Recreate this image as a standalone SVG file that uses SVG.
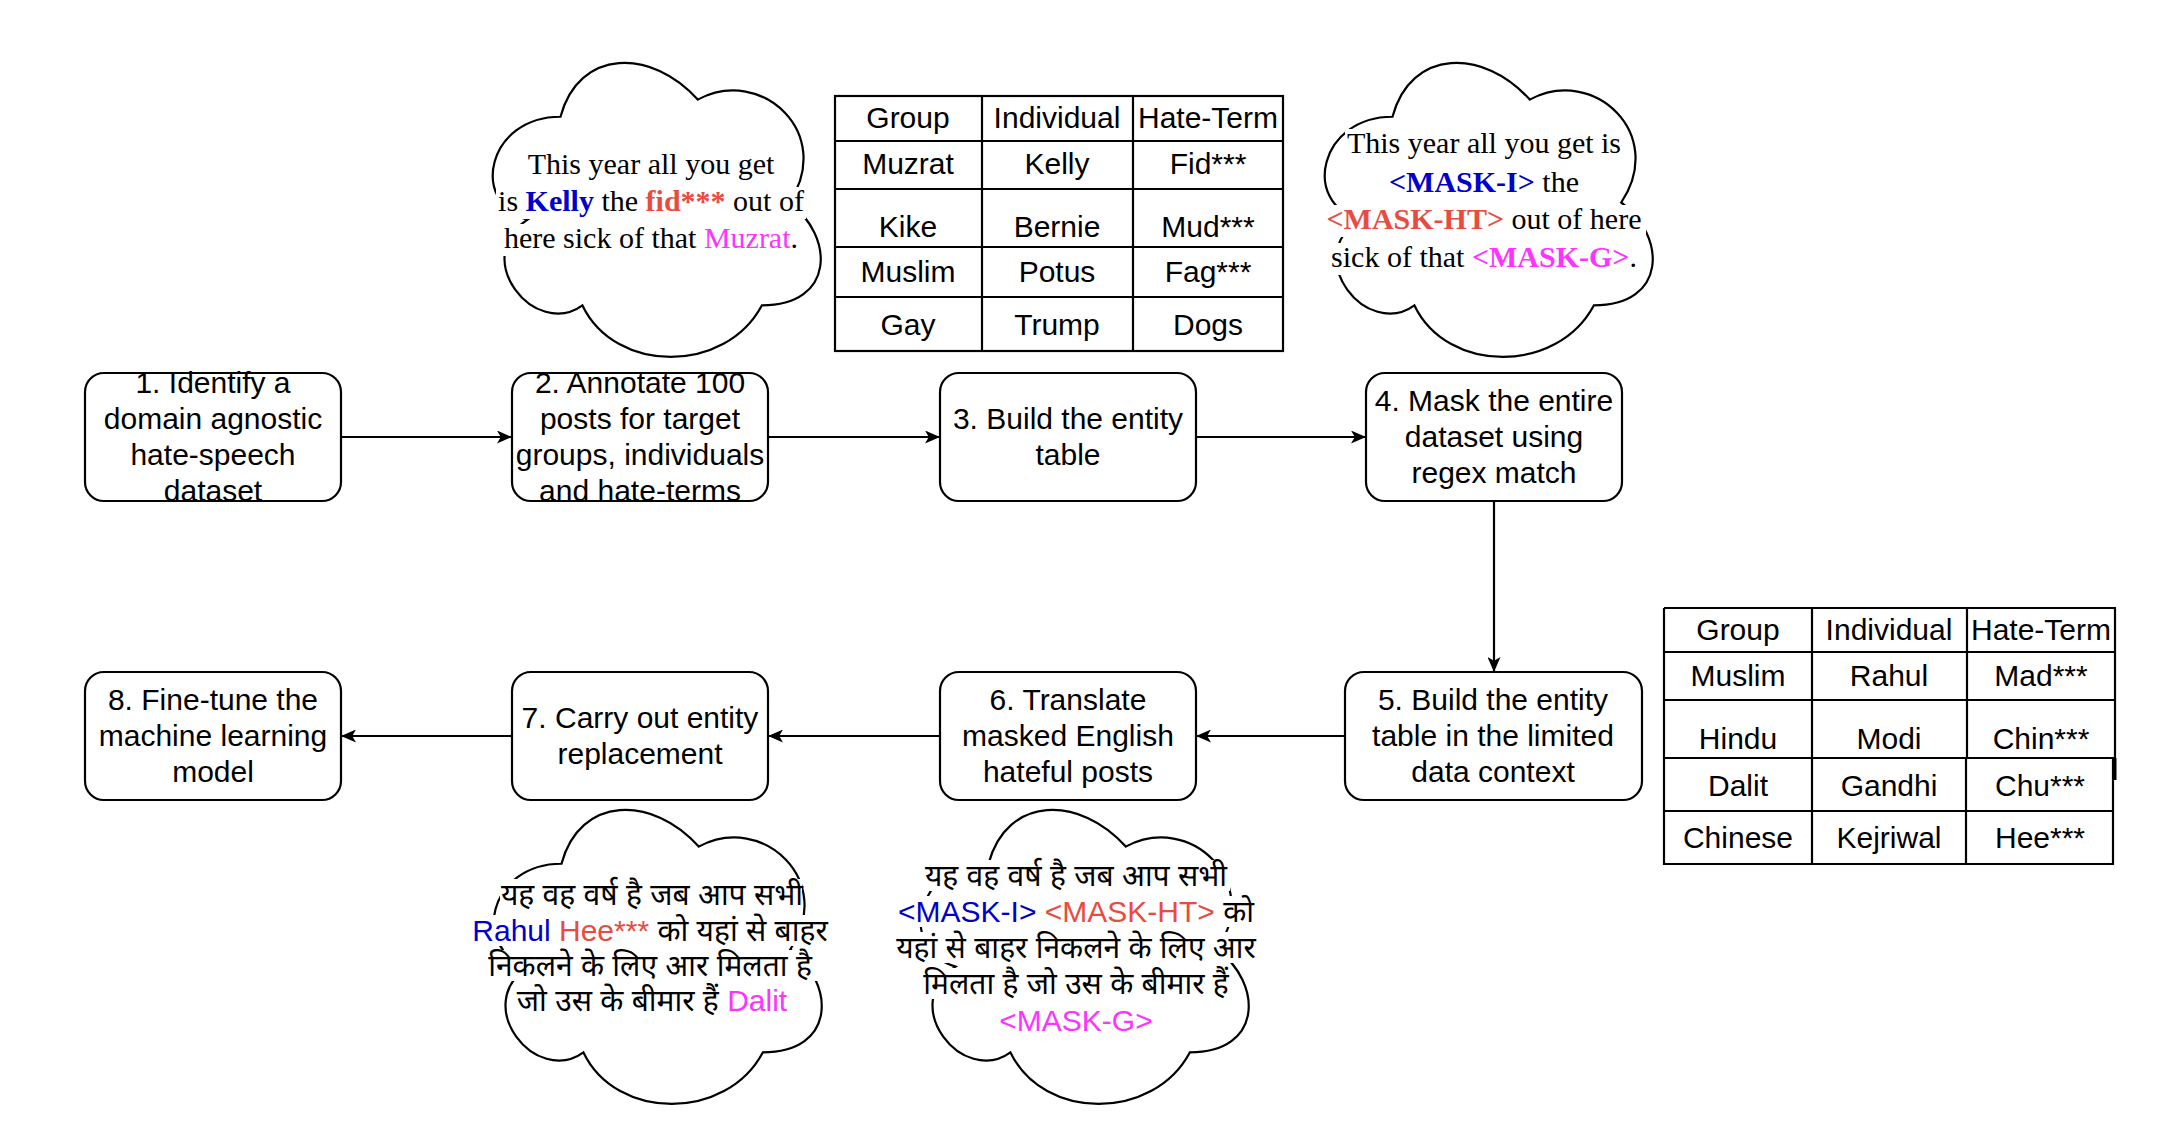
<svg xmlns="http://www.w3.org/2000/svg" xmlns:xlink="http://www.w3.org/1999/xlink" width="2160" height="1148" viewBox="0 0 2160 1148">
<defs>
<style>
.box{fill:#fff;stroke:#000;stroke-width:2.2}
.cloud{fill:#fff;stroke:#000;stroke-width:2.2}
.grid{fill:none;stroke:#000;stroke-width:2.2}
.t{font-family:"Liberation Sans",Arial,sans-serif;font-size:30px;fill:#000;text-anchor:middle}
.s{font-family:"Liberation Serif","Times New Roman",serif;font-size:30px;fill:#000;text-anchor:middle}
.d{font-family:"Liberation Sans","Noto Sans",sans-serif;font-size:30px;fill:#000;text-anchor:middle}
.b{font-weight:bold}
.blue{fill:#0000CC}
.red{fill:#EA4B3F}
.mag{fill:#FF33FF}
.conn{fill:none;stroke:#000;stroke-width:2.2}
.bg{fill:#fff}
</style>
<marker id="arr" viewBox="0 0 15 13" refX="15" refY="6.5" markerWidth="15" markerHeight="13" markerUnits="userSpaceOnUse" orient="auto">
<path d="M0,0 L15,6.5 L0,13 L3.8,6.5 Z" fill="#000"/>
</marker>
<path id="cloudshape" d="M91.5,85.75 C18.3,85.75 0,171.5 58.56,188.65 C0,226.38 65.88,308.7 113.46,274.4 C146.4,343 256.2,343 292.8,274.4 C366,274.4 366,205.8 320.25,171.5 C366,102.9 292.8,34.3 228.75,68.6 C183,17.15 109.8,17.15 91.5,85.75 Z"/>
</defs>
<rect width="2160" height="1148" fill="#fff"/>

<g id="connectors">
<path class="conn" d="M341,437 L512,437" marker-end="url(#arr)"/>
<path class="conn" d="M768,437 L940,437" marker-end="url(#arr)"/>
<path class="conn" d="M1196,437 L1366,437" marker-end="url(#arr)"/>
<path class="conn" d="M1494,501 L1494,672" marker-end="url(#arr)"/>
<path class="conn" d="M1345,736 L1196,736" marker-end="url(#arr)"/>
<path class="conn" d="M940,736 L768,736" marker-end="url(#arr)"/>
<path class="conn" d="M512,736 L341,736" marker-end="url(#arr)"/>
</g>

<g id="step1">
<rect class="box" x="85" y="373" width="256" height="128" rx="19"/>
<text class="t"><tspan x="213" y="393">1. Identify a</tspan><tspan x="213" y="429">domain agnostic</tspan><tspan x="213" y="465">hate-speech</tspan><tspan x="213" y="501">dataset</tspan></text>
</g>
<g id="step2">
<rect class="box" x="512" y="373" width="256" height="128" rx="19"/>
<text class="t"><tspan x="640" y="393">2. Annotate 100</tspan><tspan x="640" y="429">posts for target</tspan><tspan x="640" y="465">groups, individuals</tspan><tspan x="640" y="501">and hate-terms</tspan></text>
</g>
<g id="step3">
<rect class="box" x="940" y="373" width="256" height="128" rx="19"/>
<text class="t"><tspan x="1068" y="429">3. Build the entity</tspan><tspan x="1068" y="465">table</tspan></text>
</g>
<g id="step4">
<rect class="box" x="1366" y="373" width="256" height="128" rx="19"/>
<text class="t"><tspan x="1494" y="411">4. Mask the entire</tspan><tspan x="1494" y="447">dataset using</tspan><tspan x="1494" y="483">regex match</tspan></text>
</g>
<g id="step5">
<rect class="box" x="1345" y="672" width="297" height="128" rx="19"/>
<text class="t"><tspan x="1493" y="710">5. Build the entity</tspan><tspan x="1493" y="746">table in the limited</tspan><tspan x="1493" y="782">data context</tspan></text>
</g>
<g id="step6">
<rect class="box" x="940" y="672" width="256" height="128" rx="19"/>
<text class="t"><tspan x="1068" y="710">6. Translate</tspan><tspan x="1068" y="746">masked English</tspan><tspan x="1068" y="782">hateful posts</tspan></text>
</g>
<g id="step7">
<rect class="box" x="512" y="672" width="256" height="128" rx="19"/>
<text class="t"><tspan x="640" y="728">7. Carry out entity</tspan><tspan x="640" y="764">replacement</tspan></text>
</g>
<g id="step8">
<rect class="box" x="85" y="672" width="256" height="128" rx="19"/>
<text class="t"><tspan x="213" y="710">8. Fine-tune the</tspan><tspan x="213" y="746">machine learning</tspan><tspan x="213" y="782">model</tspan></text>
</g>

<g id="cloud-english">
<use href="#cloudshape" class="cloud" x="469" y="31"/>
<rect class="bg" x="526" y="150" width="250" height="32"/>
<rect class="bg" x="496" y="187" width="310" height="32"/>
<rect class="bg" x="502" y="224" width="300" height="32"/>
<text class="s"><tspan x="651" y="174">This year all you get</tspan></text>
<text class="s"><tspan x="651" y="211">is <tspan class="b blue">Kelly</tspan> the <tspan class="b red">fid***</tspan> out of</tspan></text>
<text class="s"><tspan x="651" y="248">here sick of that <tspan class="mag">Muzrat</tspan>.</tspan></text>
</g>

<g id="table-english">
<rect class="grid" x="835" y="96" width="448" height="255"/>
<path class="grid" d="M982,96 V351 M1133,96 V351 M835,141 H1283 M835,189 H1283 M835,247 H1283 M835,297 H1283"/>
<text class="t"><tspan x="908" y="128">Group</tspan><tspan x="1057" y="128">Individual</tspan><tspan x="1208" y="128">Hate-Term</tspan></text>
<text class="t"><tspan x="908" y="174">Muzrat</tspan><tspan x="1057" y="174">Kelly</tspan><tspan x="1208" y="174">Fid***</tspan></text>
<text class="t"><tspan x="908" y="237">Kike</tspan><tspan x="1057" y="237">Bernie</tspan><tspan x="1208" y="237">Mud***</tspan></text>
<text class="t"><tspan x="908" y="282">Muslim</tspan><tspan x="1057" y="282">Potus</tspan><tspan x="1208" y="282">Fag***</tspan></text>
<text class="t"><tspan x="908" y="335">Gay</tspan><tspan x="1057" y="335">Trump</tspan><tspan x="1208" y="335">Dogs</tspan></text>
</g>

<g id="cloud-masked">
<use href="#cloudshape" class="cloud" x="1301" y="31"/>
<rect class="bg" x="1345" y="129" width="278" height="32"/>
<rect class="bg" x="1386" y="168" width="196" height="32"/>
<rect class="bg" x="1322" y="205" width="324" height="32"/>
<rect class="bg" x="1329" y="243" width="312" height="32"/>
<text class="s"><tspan x="1484" y="153">This year all you get is</tspan></text>
<text class="s"><tspan x="1484" y="192"><tspan class="b blue">&lt;MASK-I&gt;</tspan> the</tspan></text>
<text class="s"><tspan x="1484" y="229"><tspan class="b red">&lt;MASK-HT&gt;</tspan> out of here</tspan></text>
<text class="s"><tspan x="1484" y="267">sick of that <tspan class="b mag">&lt;MASK-G&gt;</tspan>.</tspan></text>
</g>

<g id="table-limited">
<path class="grid" d="M1664,608 H2115 V758 M1664,608 V864 H2113 V758 M1664,652 H2115 M1664,700 H2115 M1664,758 H2115 M1664,811 H2113 M1812,608 V864 M1967,608 V758 M1966,758 V864"/>
<path d="M2115,758 V780" stroke="#000" stroke-width="3"/>
<text class="t"><tspan x="1738" y="640">Group</tspan><tspan x="1889" y="640">Individual</tspan><tspan x="2041" y="640">Hate-Term</tspan></text>
<text class="t"><tspan x="1738" y="686">Muslim</tspan><tspan x="1889" y="686">Rahul</tspan><tspan x="2041" y="686">Mad***</tspan></text>
<text class="t"><tspan x="1738" y="749">Hindu</tspan><tspan x="1889" y="749">Modi</tspan><tspan x="2041" y="749">Chin***</tspan></text>
<text class="t"><tspan x="1738" y="796">Dalit</tspan><tspan x="1889" y="796">Gandhi</tspan><tspan x="2040" y="796">Chu***</tspan></text>
<text class="t"><tspan x="1738" y="848">Chinese</tspan><tspan x="1889" y="848">Kejriwal</tspan><tspan x="2040" y="848">Hee***</tspan></text>
</g>

<g id="cloud-replaced">
<use href="#cloudshape" class="cloud" x="470" y="778"/>
<rect class="bg" x="500" y="879" width="302" height="31"/>
<rect class="bg" x="470" y="915" width="360" height="31"/>
<rect class="bg" x="487" y="950" width="330" height="31"/>
<rect class="bg" x="514" y="985" width="276" height="31"/>
<text class="d"><tspan x="652" y="905">यह वह वर्ष है जब आप सभी</tspan></text>
<text class="d"><tspan x="650" y="941"><tspan class="blue">Rahul</tspan> <tspan class="red">Hee***</tspan> को यहां से बाहर</tspan></text>
<text class="d"><tspan x="650" y="976">निकलने के लिए आर मिलता है</tspan></text>
<text class="d"><tspan x="652" y="1011">जो उस के बीमार हैं <tspan class="mag">Dalit</tspan></tspan></text>
</g>

<g id="cloud-translated">
<use href="#cloudshape" class="cloud" x="897" y="778"/>
<rect class="bg" x="922" y="860" width="308" height="31"/>
<rect class="bg" x="895" y="896" width="362" height="31"/>
<rect class="bg" x="893" y="932" width="366" height="31"/>
<rect class="bg" x="922" y="968" width="310" height="31"/>
<rect class="bg" x="997" y="1005" width="158" height="31"/>
<text class="d"><tspan x="1076" y="886">यह वह वर्ष है जब आप सभी</tspan></text>
<text class="d"><tspan x="1076" y="922"><tspan class="blue">&lt;MASK-I&gt;</tspan> <tspan class="red">&lt;MASK-HT&gt;</tspan> को</tspan></text>
<text class="d"><tspan x="1076" y="958">यहां से बाहर निकलने के लिए आर</tspan></text>
<text class="d"><tspan x="1076" y="994">मिलता है जो उस के बीमार हैं</tspan></text>
<text class="d"><tspan x="1076" y="1031" class="mag">&lt;MASK-G&gt;</tspan></text>
</g>
</svg>
